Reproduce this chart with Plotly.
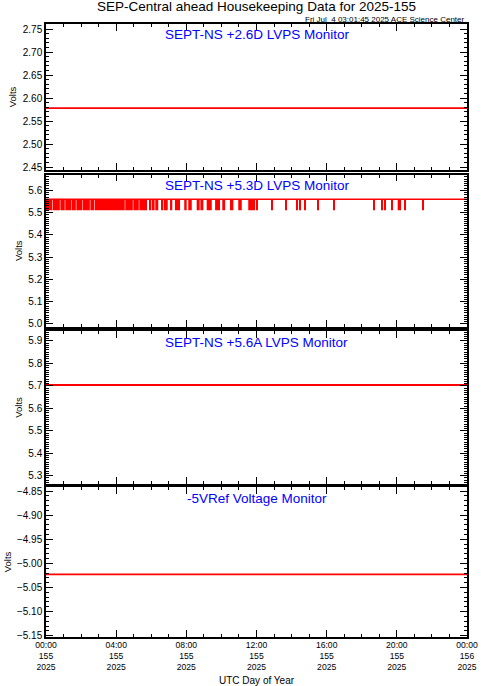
import plotly.graph_objects as go

# ---------------- data ----------------
hours = [0, 24]                                   # UTC hours, day 155 of 2025
v_26d = [2.578, 2.578]                            # SEPT-NS +2.6D LVPS Monitor (V)
v_56a = [5.704, 5.704]                            # SEPT-NS +5.6A LVPS Monitor (V)
v_5vref = [-5.023, -5.023]                        # -5VRef Voltage Monitor (V)

v53_high = 5.56                                   # SEPT-NS +5.3D nominal level (V)
v53_low = 5.51                                    # SEPT-NS +5.3D dropped level (V)
# intervals (hours) during which +5.3D reads the low level
low_start_h = [0.00, 0.38, 0.82, 1.10, 1.48, 1.73, 2.11, 2.53, 2.78, 4.52, 4.98, 5.32, 5.69,
               5.91, 6.04, 6.23, 6.56, 6.71, 7.07, 7.35, 7.88, 8.11, 8.59, 8.80, 9.16, 9.64,
               10.05, 10.49, 10.96, 11.53,
               12.05, 12.88, 13.70, 14.29, 14.48, 14.78, 15.51, 16.40, 18.72, 19.14, 19.33,
               19.71, 20.05, 20.47, 21.49]
low_end_h = [0.35, 0.79, 1.07, 1.45, 1.70, 2.08, 2.50, 2.75, 4.49, 4.95, 5.29, 5.66, 5.74,
             6.00, 6.19, 6.40, 6.67, 6.94, 7.20, 7.64, 8.02, 8.31, 8.76, 8.97, 9.45, 9.92,
             10.21, 10.68, 11.16, 11.92,
             12.05, 12.88, 13.70, 14.29, 14.48, 14.78, 15.51, 16.40, 18.72, 19.14, 19.33,
             19.71, 20.24, 20.47, 21.49]

tick_hours = [0, 4, 8, 12, 16, 20, 24]
tick_time = ["00:00", "04:00", "08:00", "12:00", "16:00", "20:00", "00:00"]
tick_doy = ["155", "155", "155", "155", "155", "155", "156"]
tick_year = ["2025"] * 7

panel_titles = ["SEPT-NS +2.6D LVPS Monitor", "SEPT-NS +5.3D LVPS Monitor",
                "SEPT-NS +5.6A LVPS Monitor", "-5VRef Voltage Monitor"]

# ---------------- layout helpers ----------------
W, H = 481, 686
FONT = "Liberation Sans"
RED = "#ff0000"

def ydom(top_px, bot_px):
    return [1 - bot_px / H, 1 - top_px / H]

xdom = [46 / W, 467 / W]
panels = [
    dict(dom=ydom(24, 170), rng=[2.4435, 2.7609], dtick=0.05, tick0=2.45, fmt=".2f"),
    dict(dom=ydom(174.5, 327), rng=[4.9865, 5.671], dtick=0.1, tick0=5.0, fmt=".1f"),
    dict(dom=ydom(331, 484), rng=[5.263, 5.9445], dtick=0.1, tick0=5.3, fmt=".1f"),
    dict(dom=ydom(487, 637), rng=[-5.1527, -4.8417], dtick=0.05, tick0=-5.15, fmt=".2f"),
]

fig = go.Figure()

for idx, vals in [(1, v_26d), (3, v_56a), (4, v_5vref)]:
    fig.add_trace(go.Scatter(x=hours, y=vals, mode="lines", line=dict(color=RED, width=1.8),
                             xaxis=f"x{idx}" if idx > 1 else "x", yaxis=f"y{idx}" if idx > 1 else "y",
                             showlegend=False, hoverinfo="skip"))

mids = [(s + e) / 2 for s, e in zip(low_start_h, low_end_h)]
widths = [max(e - s, 0.055) for s, e in zip(low_start_h, low_end_h)]
fig.add_trace(go.Bar(x=mids, y=[v53_high - v53_low] * len(mids), base=v53_low, width=widths,
                     marker=dict(color=RED, line=dict(width=0)), xaxis="x2", yaxis="y2",
                     showlegend=False, hoverinfo="skip"))
fig.add_trace(go.Scatter(x=hours, y=[v53_high, v53_high], mode="lines",
                         line=dict(color=RED, width=1.5), xaxis="x2", yaxis="y2",
                         showlegend=False, hoverinfo="skip"))

tick_labels = [f"{t}<br>{d}<br>{y}" for t, d, y in zip(tick_time, tick_doy, tick_year)]

XFONT = dict(family=FONT, size=8.6, color="black")
common_x = dict(range=[0, 24], domain=xdom, tickvals=tick_hours, ticks="inside", ticklen=7,
                tickwidth=1.2, tickcolor="black", showline=True, linecolor="black", linewidth=1.5,
                mirror="allticks", showgrid=False, zeroline=False, automargin=False,
                minor=dict(dtick=1, tick0=0, ticks="inside", ticklen=3.5, tickcolor="black",
                           tickwidth=1, showgrid=False),
                tickfont=XFONT)

layout = dict(template="none", width=W, height=H, autosize=False,
              margin=dict(l=0, r=0, t=0, b=0, pad=0), plot_bgcolor="white",
              paper_bgcolor="white", barmode="overlay", showlegend=False,
              font=dict(family=FONT, color="black"))

for i, p in enumerate(panels, start=1):
    xk = "xaxis" if i == 1 else f"xaxis{i}"
    yk = "yaxis" if i == 1 else f"yaxis{i}"
    xa = dict(common_x)
    xa["anchor"] = "y" if i == 1 else f"y{i}"
    xa["showticklabels"] = (i == 4)
    if i == 4:
        xa["ticktext"] = tick_labels
        xa["ticklabelstandoff"] = -1
    if i > 1:
        xa["matches"] = "x"
    layout[xk] = xa
    layout[yk] = dict(range=p["rng"], domain=p["dom"], anchor="x" if i == 1 else f"x{i}",
                      tick0=p["tick0"], dtick=p["dtick"], tickformat=p["fmt"], ticks="inside",
                      ticklen=7, tickwidth=1.2, tickcolor="black", showline=True,
                      linecolor="black", linewidth=1.5, mirror="allticks", showgrid=False,
                      zeroline=False, automargin=False,
                      minor=dict(dtick=0.01, ticks="inside", ticklen=3.5, tickcolor="black",
                                 tickwidth=1, showgrid=False),
                      tickfont=dict(family=FONT, size=10, color="black"),
                      title=dict(text="Volts", font=dict(family=FONT, size=9.5, color="black"),
                                 standoff=4))

annotations = [
    dict(text="SEP-Central ahead Housekeeping Data for 2025-155", xref="paper", yref="paper",
         x=256 / W, y=1 - 6.5 / H, xanchor="center", yanchor="middle", showarrow=False,
         font=dict(family=FONT, size=13.5, color="black")),
    dict(text="Fri Jul  4 03:01:45 2025 ACE Science Center", xref="paper", yref="paper",
         x=467 / W, y=1 - 19.3 / H, xanchor="right", yanchor="middle", showarrow=False,
         font=dict(family=FONT, size=8, color="black")),
    dict(text="UTC Day of Year", xref="paper", yref="paper", x=256.5 / W, y=1 - 680.5 / H,
         xanchor="center", yanchor="middle", showarrow=False,
         font=dict(family=FONT, size=10, color="black")),
]
for i, t in enumerate(panel_titles, start=1):
    sfx = "" if i == 1 else str(i)
    annotations.append(dict(text=t, xref=f"x{sfx} domain", yref=f"y{sfx} domain", x=0.5, y=1,
                            xanchor="center", yanchor="top", yshift=-1.5, showarrow=False,
                            font=dict(family=FONT, size=13.5, color="#0000ff")))
layout["annotations"] = annotations

fig.update_layout(**layout)
fig.write_html("out.html", config={"responsive": False, "displayModeBar": False},
               post_script="document.body.style.margin='0px';document.body.style.overflow='hidden';")
